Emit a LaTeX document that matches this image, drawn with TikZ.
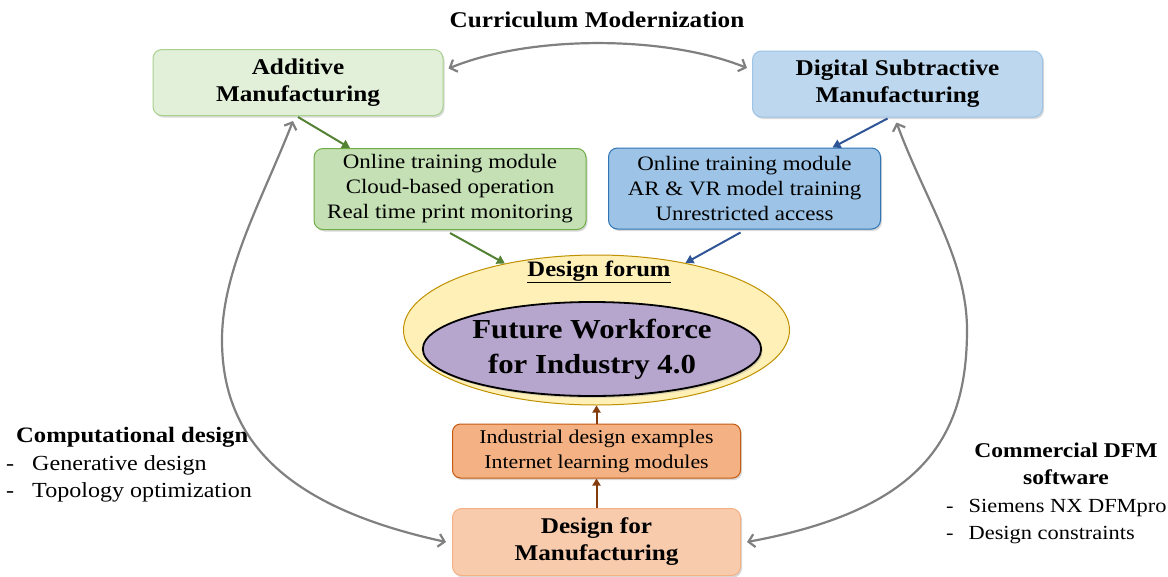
\documentclass[tikz,border=0pt]{standalone}
\usepackage{fontspec}
\setmainfont{Liberation Serif}[FakeStretch=1.12]
\usetikzlibrary{shapes.geometric,shadows,arrows.meta,calc}

\definecolor{amfill}{HTML}{E2F0D9}
\definecolor{amline}{HTML}{A9D18E}
\definecolor{dsmfill}{HTML}{BDD7EE}
\definecolor{dsmline}{HTML}{9DC3E6}
\definecolor{amtrainfill}{HTML}{C5E0B4}
\definecolor{amtrainline}{HTML}{70AD47}
\definecolor{dsmtrainfill}{HTML}{9DC3E6}
\definecolor{dsmtrainline}{HTML}{2E75B6}
\definecolor{forumfill}{HTML}{FFF0B8}
\definecolor{forumline}{HTML}{BF9000}
\definecolor{workfill}{HTML}{B6A6CE}
\definecolor{exfill}{HTML}{F4B183}
\definecolor{exline}{HTML}{C55A11}
\definecolor{dfmfill}{HTML}{F8CBAD}
\definecolor{dfmline}{HTML}{F4B183}
\definecolor{arrowgrey}{HTML}{808080}
\definecolor{arrowgreen}{HTML}{548235}
\definecolor{arrowblue}{HTML}{2F5597}
\definecolor{arrowbrown}{HTML}{843C0C}

\tikzset{
  boxshadow/.style={drop shadow={opacity=0.3,shadow xshift=1.5pt,shadow yshift=-2pt}},
  topbox/.style={draw, rounded corners=9pt, line width=1pt, boxshadow,
    minimum width=290pt, minimum height=66pt, inner sep=2pt, align=center,
    font=\fontsize{22.5}{27}\selectfont\bfseries},
  midbox/.style={draw, rounded corners=9pt, line width=1pt, boxshadow,
    minimum width=272pt, minimum height=81pt, inner sep=2pt, align=center,
    font=\fontsize{20.5}{25}\selectfont},
  lowbox/.style={draw, rounded corners=8pt, line width=1pt, boxshadow,
    minimum width=288pt, minimum height=54pt, inner sep=2pt, align=center,
    font=\fontsize{19.5}{25}\selectfont},
  headtext/.style={font=\fontsize{22}{27}\selectfont\bfseries, inner sep=0pt},
  listtext/.style={font=\fontsize{21.5}{27}\selectfont, inner sep=0pt, align=left},
  greyarrow/.style={draw=arrowgrey, line width=2.2pt,
    {Straight Barb[length=6pt,width=13pt]}-{Straight Barb[length=6pt,width=13pt]}},
  greenarrow/.style={draw=arrowgreen, line width=2pt, -{Triangle[length=8pt,width=9pt]}},
  bluearrow/.style={draw=arrowblue, line width=2pt, -{Triangle[length=8pt,width=9pt]}},
  brownarrow/.style={draw=arrowbrown, line width=2pt, -{Triangle[length=7pt,width=8pt]}},
}

\begin{document}
\begin{tikzpicture}[x=1pt,y=-1pt]
\useasboundingbox (0,0) rectangle (1168,576);

% Title
\node[headtext, font=\fontsize{22.5}{27}\selectfont\bfseries] (title) at (597,20) {Curriculum Modernization};

% Top boxes
\node[topbox, fill=amfill, draw=amline] (am) at (298,82.5) {Additive\\Manufacturing};
\node[topbox, fill=dsmfill, draw=dsmline] (dsm) at (897.5,84) {Digital Subtractive\\Manufacturing};

% Training boxes
\node[midbox, fill=amtrainfill, draw=amtrainline] (amtrain) at (450,189) {Online training module\\Cloud-based operation\\Real time print monitoring};
\node[midbox, fill=dsmtrainfill, draw=dsmtrainline] (dsmtrain) at (744.5,188.5) {Online training module\\AR \& VR model training\\Unrestricted access};

% Design forum
\node[ellipse, fill=forumfill, draw=forumline, line width=1pt, minimum width=386pt, minimum height=150pt] (forum) at (596.5,330) {};
\node[headtext] (forumlbl) at (599,272) {\underline{Design forum}};
\node[ellipse, fill=workfill, draw=black, line width=1.8pt, boxshadow, minimum width=280pt, minimum height=94pt, inner sep=0pt, align=center, font=\fontsize{27.5}{35}\selectfont\bfseries] (work) at (592,349) {Future Workforce\\for Industry 4.0};

% Bottom boxes
\node[lowbox, fill=exfill, draw=exline] (examples) at (596.5,451) {Industrial design examples\\Internet learning modules};
\node[topbox, fill=dfmfill, draw=dfmline, minimum width=288pt, minimum height=67pt] (dfm) at (596.5,542) {Design for\\Manufacturing};

% Side texts
\node[headtext, anchor=west] (compdesign) at (16,437) {Computational design};
\node[listtext, anchor=north west] (complist) at (6,451) {\begin{tabular}{@{}l@{\hspace{18pt}}l@{}}-&Generative design\\-&Topology optimization\end{tabular}};
\node[headtext, font=\fontsize{21}{27}\selectfont\bfseries, align=center, anchor=north] (dfmsoft) at (1066,443) {Commercial DFM\\software};
\node[listtext, font=\fontsize{20}{27}\selectfont, anchor=north west] (dfmlist) at (946,493) {\begin{tabular}{@{}l@{\hspace{15pt}}l@{}}-&Siemens NX DFMpro\\-&Design constraints\end{tabular}};

% Arrows
\draw[greyarrow] ([shift={(5pt,14pt)}]am.east) .. controls (530,35) and (665,35) .. ([shift={(-5pt,16pt)}]dsm.west);
\draw[greenarrow] ([yshift=-1pt]am.south) -- ([xshift=-100pt]amtrain.north);
\draw[greenarrow] ([yshift=-3pt]amtrain.south) -- (forum.144);
\draw[bluearrow] ([shift={(-10pt,-1pt)}]dsm.south) -- ([xshift=88pt]dsmtrain.north);
\draw[bluearrow] ([shift={(-4pt,-3pt)}]dsmtrain.south) -- (forum.37);
\draw[brownarrow] (examples.north) -- (forum.south);
\draw[brownarrow] (dfm.north) -- (examples.south);
\draw[greyarrow] ([shift={(-5pt,-5pt)}]am.south) .. controls (262,200) and (222,270) .. (222,340) .. controls (222,450) and (300,510) .. ([xshift=-6pt]dfm.west);
\draw[greyarrow] ([shift={(-1pt,-5pt)}]dsm.south) .. controls (925,200) and (967,260) .. (967,330) .. controls (967,440) and (920,510) .. ([xshift=6pt]dfm.east);

\end{tikzpicture}
\end{document}
